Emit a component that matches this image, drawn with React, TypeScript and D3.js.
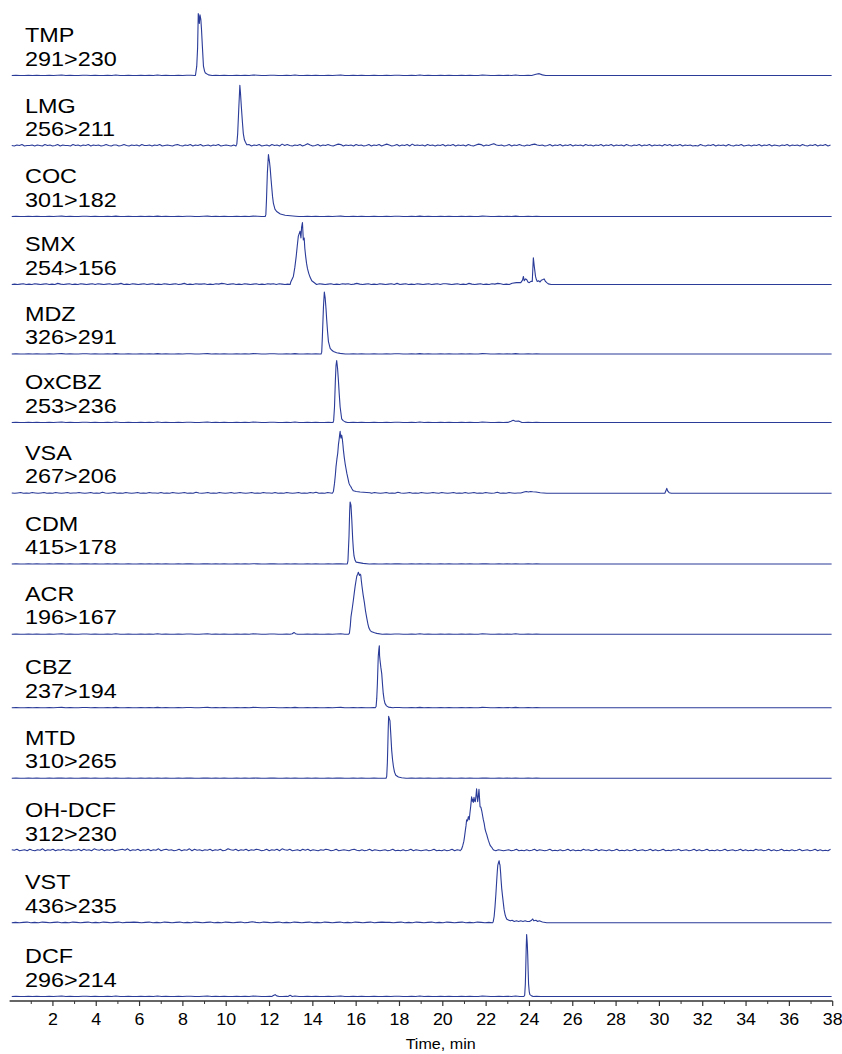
import React from "react";
import * as d3 from "d3";

// ---------- data ----------
const compounds = ["TMP", "LMG", "COC", "SMX", "MDZ", "OxCBZ", "VSA", "CDM", "ACR", "CBZ", "MTD", "OH-DCF", "VST", "DCF"];
const transitions = ["291>230", "256>211", "301>182", "254>156", "326>291", "253>236", "267>206", "415>178", "196>167", "237>194", "310>265", "312>230", "436>235", "296>214"];
const majorTicks = [2, 4, 6, 8, 10, 12, 14, 16, 18, 20, 22, 24, 26, 28, 30, 32, 34, 36, 38];
const minorTicks = [1, 3, 5, 7, 9, 11, 13, 15, 17, 19, 21, 23, 25, 27, 29, 31, 33, 35, 37];
const axisTitle = "Time, min";

type Pt = [number, number];
type Noise = { from: number; to: number; amp: number; levels: string };

// peak segments: [time (min), relative intensity (%)]
const tmpPeaks: Pt[][] = [
  [[8.58, 0], [8.64, 15], [8.68, 45], [8.71, 100], [8.74, 93], [8.76, 84], [8.79, 98], [8.83, 90], [8.86, 74], [8.9, 47], [8.95, 15], [9.0, 7], [9.04, 4], [9.18, 1], [9.35, 0]],
  [[24.1, 0], [24.3, 2], [24.45, 3], [24.6, 1], [24.75, 0]],
  [[24.9, 0], [37.95, 0]],
];
const lmgPeaks: Pt[][] = [
  [[10.45, 0], [10.49, 3], [10.53, 20], [10.58, 60], [10.63, 98], [10.66, 85], [10.7, 63], [10.75, 38], [10.79, 20], [10.84, 10], [10.89, 6], [10.95, 2]],
];
const cocPeaks: Pt[][] = [
  [[11.8, 0], [11.83, 3], [11.86, 27], [11.9, 70], [11.95, 100], [11.98, 92], [12.0, 88], [12.03, 78], [12.07, 60], [12.1, 48], [12.14, 32], [12.18, 21], [12.25, 12], [12.33, 8], [12.5, 4], [12.72, 2], [13.2, 0.5]],
  [[24.9, 0], [37.95, 0]],
];
const smxPeaks: Pt[][] = [
  [[12.95, 0], [12.98, 4], [13.1, 13], [13.17, 28], [13.23, 45], [13.28, 62], [13.33, 78], [13.41, 86], [13.45, 75], [13.48, 92], [13.52, 100], [13.56, 72], [13.6, 75], [13.63, 58], [13.67, 45], [13.71, 34], [13.75, 26], [13.81, 18], [13.87, 12], [13.95, 6], [14.1, 2]],
  [[23.2, 2], [23.4, 3], [23.6, 3], [23.68, 7], [23.72, 13], [23.76, 6], [23.82, 9], [23.87, 8], [23.93, 4], [23.99, 3], [24.07, 5], [24.13, 5], [24.18, 43], [24.22, 30], [24.28, 13], [24.32, 8], [24.36, 5], [24.42, 6], [24.49, 4], [24.55, 7], [24.62, 8], [24.68, 9], [24.74, 5], [24.8, 3], [24.87, 1], [25.0, 0]],
  [[25.0, 0], [37.95, 0]],
];
const mdzPeaks: Pt[][] = [
  [[14.38, 0], [14.41, 3], [14.44, 28], [14.49, 76], [14.53, 100], [14.57, 90], [14.61, 72], [14.64, 55], [14.68, 36], [14.72, 20], [14.8, 9], [14.88, 6], [14.95, 4], [15.1, 2], [15.26, 1], [15.5, 0]],
  [[24.9, 0], [37.95, 0]],
];
const oxcbzPeaks: Pt[][] = [
  [[14.93, 0], [14.96, 3], [15.0, 25], [15.04, 68], [15.07, 92], [15.1, 100], [15.14, 88], [15.18, 68], [15.22, 45], [15.26, 25], [15.33, 6], [15.4, 3], [15.49, 1], [15.6, 0]],
  [[23.0, 0], [23.15, 2], [23.25, 3.5], [23.35, 2], [23.5, 2.5], [23.65, 0]],
  [[24.9, 0], [37.95, 0]],
];
const vsaPeaks: Pt[][] = [
  [[14.9, 0], [14.95, 3], [15.0, 16], [15.04, 30], [15.07, 43], [15.11, 55], [15.15, 65], [15.18, 78], [15.21, 86], [15.24, 95], [15.26, 100], [15.28, 92], [15.3, 89], [15.33, 94], [15.36, 88], [15.39, 78], [15.41, 70], [15.45, 58], [15.49, 48], [15.53, 40], [15.57, 32], [15.62, 24], [15.67, 16], [15.71, 13], [15.75, 11], [15.81, 7], [15.87, 4], [16.0, 3], [16.18, 2], [16.64, 1]],
  [[23.6, 0.5], [23.75, 2], [23.85, 3], [23.95, 2], [24.05, 3], [24.15, 2.5], [24.3, 2], [24.5, 1], [24.8, 0]],
  [[24.8, 0], [30.25, 0], [30.3, 4], [30.34, 8], [30.38, 4], [30.45, 1], [30.55, 0], [37.95, 0]],
];
const cdmPeaks: Pt[][] = [
  [[15.59, 0], [15.62, 5], [15.67, 45], [15.7, 85], [15.72, 100], [15.76, 95], [15.8, 70], [15.84, 40], [15.87, 24], [15.9, 13], [15.95, 6], [16.0, 3], [16.32, 1], [16.6, 0]],
  [[24.9, 0], [37.95, 0]],
];
const acrPeaks: Pt[][] = [
  [[12.95, 0], [13.05, 1], [13.13, 3], [13.2, 1], [13.3, 0]],
  [[15.65, 0], [15.69, 2], [15.73, 14], [15.76, 28], [15.82, 42], [15.87, 55], [15.91, 66], [15.95, 77], [16.0, 88], [16.03, 94], [16.07, 97], [16.1, 100], [16.15, 95], [16.18, 97], [16.21, 96], [16.24, 86], [16.27, 77], [16.32, 64], [16.38, 51], [16.43, 38], [16.49, 26], [16.54, 17], [16.59, 10], [16.65, 6], [16.72, 4], [16.85, 2.5], [16.95, 1.5], [17.2, 0]],
  [[24.9, 0], [37.95, 0]],
];
const cbzPeaks: Pt[][] = [
  [[16.88, 0], [16.92, 2], [16.95, 15], [16.98, 39], [17.02, 83], [17.05, 95], [17.07, 100], [17.08, 84], [17.1, 77], [17.14, 65], [17.18, 55], [17.22, 36], [17.25, 23], [17.29, 13], [17.33, 7], [17.4, 3], [17.49, 1], [17.7, 0]],
  [[24.9, 0], [37.95, 0]],
];
const mtdPeaks: Pt[][] = [
  [[17.38, 0], [17.41, 3], [17.44, 25], [17.46, 51], [17.48, 80], [17.5, 100], [17.53, 96], [17.56, 93], [17.6, 70], [17.64, 45], [17.68, 30], [17.72, 19], [17.77, 10], [17.83, 5], [17.95, 2], [18.1, 1], [18.3, 0]],
  [[24.9, 0], [37.95, 0]],
];
const ohdcfPeaks: Pt[][] = [
  [[20.8, 0], [20.86, 2], [20.92, 8], [20.97, 15], [21.0, 22], [21.03, 30], [21.07, 40], [21.1, 50], [21.14, 48], [21.18, 55], [21.22, 50], [21.25, 60], [21.29, 72], [21.33, 87], [21.36, 80], [21.38, 83], [21.41, 78], [21.44, 86], [21.47, 80], [21.5, 79], [21.53, 88], [21.56, 100], [21.59, 86], [21.61, 79], [21.64, 88], [21.67, 99], [21.7, 82], [21.72, 71], [21.76, 70], [21.8, 64], [21.84, 56], [21.87, 50], [21.91, 44], [21.95, 35], [21.99, 30], [22.03, 26], [22.06, 22], [22.1, 17], [22.14, 13], [22.18, 9], [22.22, 7], [22.25, 6], [22.3, 3], [22.35, 1]],
];
const vstPeaks: Pt[][] = [
  [[22.3, 0], [22.33, 2], [22.37, 10], [22.41, 26], [22.45, 46], [22.49, 69], [22.52, 85], [22.54, 93], [22.57, 97], [22.6, 100], [22.62, 95], [22.64, 93], [22.67, 80], [22.69, 69], [22.72, 55], [22.76, 42], [22.8, 30], [22.83, 21], [22.87, 14], [22.9, 10], [22.95, 6], [22.98, 5], [23.05, 4], [23.12, 3], [23.2, 4], [23.3, 2], [23.4, 3], [23.5, 2], [23.6, 3], [23.7, 2], [23.8, 3], [23.9, 2], [24.0, 2], [24.1, 4], [24.15, 6], [24.2, 3], [24.3, 4], [24.38, 2], [24.45, 3], [24.6, 1], [24.8, 0]],
  [[24.8, 0], [37.95, 0]],
];
const dcfPeaks: Pt[][] = [
  [[12.1, 0], [12.2, 2], [12.26, 3], [12.33, 1], [12.45, 0]],
  [[12.85, 0], [12.95, 2], [13.05, 0]],
  [[23.74, 0], [23.78, 2], [23.81, 20], [23.83, 47], [23.85, 78], [23.87, 100], [23.9, 85], [23.92, 67], [23.94, 42], [23.96, 20], [23.99, 8], [24.02, 3], [24.1, 1], [24.17, 0]],
  [[24.9, 0], [37.95, 0]],
];

// baseline noise read as small level digits sampled evenly over [from, to]
const lightLevels = "0100101001012010011010010200100101020100101100120101001010210011001020010100101200101001001011001020100101001010021001010200101001";
const tmpNoise: Noise = { from: 0.1, to: 24.9, amp: 0.4, levels: lightLevels };
const lmgNoise: Noise = {
  from: 0.1, to: 37.9, amp: 0.75,
  levels: "1021301120210312013021103120213021201310220131021203112021301210231021302130120213012102310243021301203120413102130252013021310243021203120130213024201302130412120312021302130212031024302135212013021310213421201302130213021203120213021302120310213021302120313021302120103102130212031021301202130213021021302120310213021302",
};
const cocNoise: Noise = { from: 0.1, to: 24.9, amp: 0.3, levels: lightLevels };
const smxNoise: Noise = {
  from: 0.1, to: 23.2, amp: 0.6,
  levels: "0101201021012010310120102101202101201130102101201201021012013010211201021320120102101201021202101201021013021012010212013101201021012030120102101201202210120103101201021320102",
};
const mdzNoise: Noise = { from: 0.1, to: 24.9, amp: 0.3, levels: lightLevels };
const oxcbzNoise: Noise = { from: 0.1, to: 24.9, amp: 0.35, levels: lightLevels };
const vsaNoise: Noise = {
  from: 0.1, to: 23.6, amp: 0.6,
  levels: "1012010210120102101201121012010310120102101201021102010210120103101201021012012101201021102010210120102130102101201021012010210120103101201021012102101201020120102101301021012",
};
const cdmNoise: Noise = { from: 0.1, to: 24.9, amp: 0.25, levels: lightLevels };
const acrNoise: Noise = { from: 0.1, to: 24.9, amp: 0.4, levels: lightLevels };
const cbzNoise: Noise = { from: 0.1, to: 24.9, amp: 0.25, levels: lightLevels };
const mtdNoise: Noise = { from: 0.1, to: 24.9, amp: 0.25, levels: lightLevels };
const ohdcfNoise: Noise = {
  from: 0.1, to: 37.9, amp: 0.75,
  levels: "2130120310214021302131202130312042130213012314021302130214023120130214031202130213014213021302132013021304213012031302102132013012102310201302101201301020130210120130102013021012013010201302101201301020130210130102013020103120130210201301020130120130201301021301201302013010201301201302010312013020130102013012013020103",
};
const vstNoise: Noise = {
  from: 0.1, to: 22.3, amp: 0.5,
  levels: "0101201021012010210120102101201121012010210120102101201021012013102101201021012010210120102101201211012010210120102101201021012",
};
const dcfNoise: Noise = { from: 0.1, to: 24.9, amp: 0.35, levels: lightLevels };

const peakSets: Pt[][][] = [tmpPeaks, lmgPeaks, cocPeaks, smxPeaks, mdzPeaks, oxcbzPeaks, vsaPeaks, cdmPeaks, acrPeaks, cbzPeaks, mtdPeaks, ohdcfPeaks, vstPeaks, dcfPeaks];
const noiseSets: Noise[] = [tmpNoise, lmgNoise, cocNoise, smxNoise, mdzNoise, oxcbzNoise, vsaNoise, cdmNoise, acrNoise, cbzNoise, mtdNoise, ohdcfNoise, vstNoise, dcfNoise];

// ---------- layout ----------
const W = 842;
const H = 1054;
const PANEL_BASE = [75.5, 146, 216.5, 284.5, 354, 422.5, 493.3, 564, 634.3, 707.7, 778.3, 850.7, 922.7, 996.5];
const PEAK_H = 62;
const AXIS_Y = 1001;
const TRACE_COLOR = "#2a3b98";
const FONT = "'Liberation Sans', Arial, Helvetica, sans-serif";

function buildSeries(segments: Pt[][], noise: Noise): Pt[] {
  const spans = segments.map((s) => [s[0][0], s[s.length - 1][0]]);
  const n = noise.levels.length;
  const step = (noise.to - noise.from) / (n - 1);
  const pts: Pt[] = [];
  for (let i = 0; i < n; i++) {
    const t = noise.from + i * step;
    if (spans.some(([a, b]) => t >= a && t <= b)) continue;
    pts.push([t, Number(noise.levels[i]) * noise.amp]);
  }
  segments.forEach((s) => s.forEach((p) => pts.push(p)));
  pts.sort((a, b) => a[0] - b[0]);
  return pts;
}

export default function App() {
  const x = d3.scaleLinear().domain([0, 38]).range([9.6, 832.7]);

  return (
    <svg
      width={W}
      height={H}
      style={{ position: "absolute", left: 0, top: 0, background: "#fff" }}
      fontFamily={FONT}
    >
      <rect width={W} height={H} fill="#fff" />
      {compounds.map((name, i) => {
        const base = PANEL_BASE[i];
        const y = d3.scaleLinear().domain([0, 100]).range([base, base - PEAK_H]);
        const series = buildSeries(peakSets[i], noiseSets[i]);
        const line = d3
          .line<Pt>()
          .x((d) => x(d[0]))
          .y((d) => y(d[1]));
        return (
          <g key={name}>
            <path d={line(series) || ""} fill="none" stroke={TRACE_COLOR} strokeWidth={1.1} strokeLinejoin="round" />
            <text transform={`translate(25,${base - 33.5}) scale(1.17,1)`} fontSize={20} fill="#000">
              {name}
            </text>
            <text transform={`translate(25,${base - 10}) scale(1.17,1)`} fontSize={20} fill="#000">
              {transitions[i]}
            </text>
          </g>
        );
      })}
      {/* x axis */}
      <line x1={x(0)} x2={x(38)} y1={AXIS_Y} y2={AXIS_Y} stroke="#333" strokeWidth={1.6} />
      {minorTicks.map((t) => (
        <line key={"m" + t} x1={x(t)} x2={x(t)} y1={AXIS_Y} y2={AXIS_Y + 3} stroke="#333" strokeWidth={1} />
      ))}
      {majorTicks.map((t) => (
        <g key={"M" + t}>
          <line x1={x(t)} x2={x(t)} y1={AXIS_Y} y2={AXIS_Y + 5} stroke="#333" strokeWidth={1.2} />
          <text transform={`translate(${x(t)},1025) scale(1.08,1)`} fontSize={16.5} textAnchor="middle" fill="#000">
            {t}
          </text>
        </g>
      ))}
      <text transform={`translate(${x(19.9)},1049) scale(1.15,1)`} fontSize={14} textAnchor="middle" fill="#000">
        {axisTitle}
      </text>
    </svg>
  );
}
